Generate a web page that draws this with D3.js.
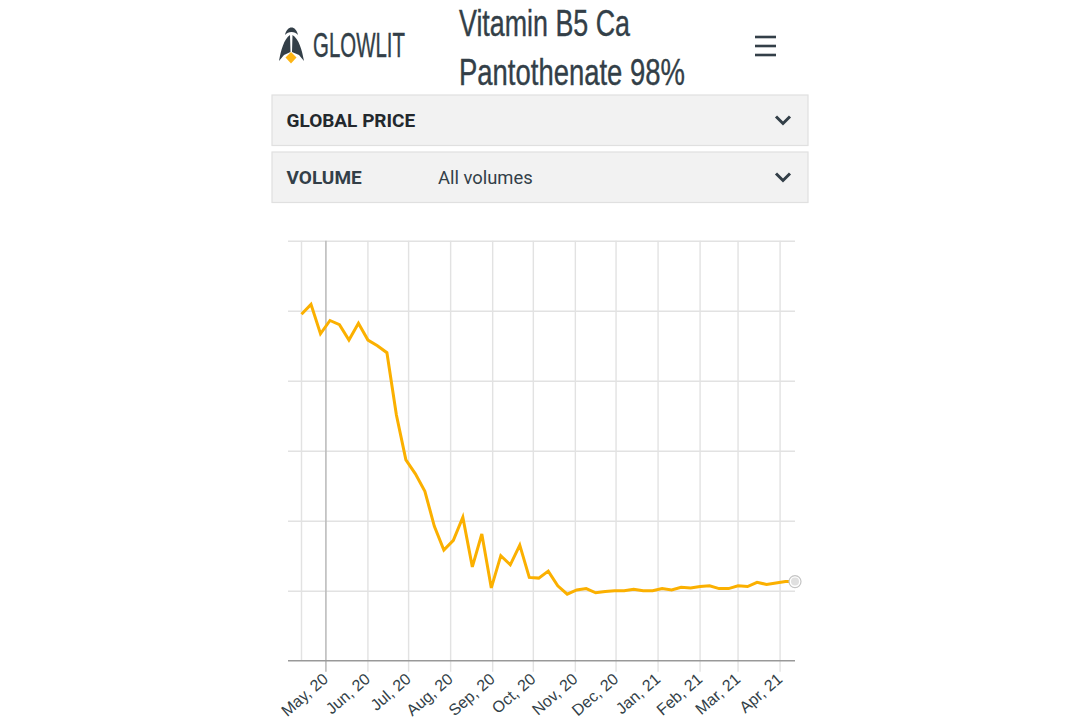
<!DOCTYPE html>
<html>
<head>
<meta charset="utf-8">
<script src="https://cdn.jsdelivr.net/npm/d3@7"></script>
<style>
  html, body { margin: 0; background: #fff; }
  svg { display: block; }
</style>
</head>
<body>
<svg id="chart" width="1080" height="720"></svg>
<script>
const weeks = [
  "2020-04-13", "2020-04-20", "2020-04-27", "2020-05-04", "2020-05-11", "2020-05-18", "2020-05-25",
  "2020-06-01", "2020-06-08", "2020-06-15", "2020-06-22", "2020-06-29", "2020-07-06", "2020-07-13",
  "2020-07-20", "2020-07-27", "2020-08-03", "2020-08-10", "2020-08-17", "2020-08-24", "2020-08-31",
  "2020-09-07", "2020-09-14", "2020-09-21", "2020-09-28", "2020-10-05", "2020-10-12", "2020-10-19",
  "2020-10-26", "2020-11-02", "2020-11-09", "2020-11-16", "2020-11-23", "2020-11-30", "2020-12-07",
  "2020-12-14", "2020-12-21", "2020-12-28", "2021-01-04", "2021-01-11", "2021-01-18", "2021-01-25",
  "2021-02-01", "2021-02-08", "2021-02-15", "2021-02-22", "2021-03-01", "2021-03-08", "2021-03-15",
  "2021-03-22", "2021-03-29", "2021-04-05", "2021-04-12",
]

const prices = [
  4.95, 5.09, 4.67, 4.86, 4.80, 4.58, 4.82, 4.58, 4.50, 4.40, 3.51, 2.87, 2.67, 2.42,
  1.92, 1.58, 1.72, 2.05, 1.34, 1.81, 1.04, 1.50, 1.37, 1.65, 1.19, 1.18, 1.28, 1.07,
  0.95, 1.01, 1.03, 0.97, 0.99, 1.00, 1.00, 1.02, 1.00, 1.00, 1.03, 1.01, 1.05, 1.04,
  1.06, 1.07, 1.03, 1.03, 1.07, 1.06, 1.12, 1.09, 1.11, 1.13, 1.13,
]

const monthTicks = [
  "2020-05-01", "2020-06-01", "2020-07-01", "2020-08-01", "2020-09-01", "2020-10-01",
  "2020-11-01", "2020-12-01", "2021-01-01", "2021-02-01", "2021-03-01", "2021-04-01",
]

const tickLabels = [
  "May, 20", "Jun, 20", "Jul, 20", "Aug, 20", "Sep, 20", "Oct, 20",
  "Nov, 20", "Dec, 20", "Jan, 21", "Feb, 21", "Mar, 21", "Apr, 21",
]

const priceTicks = [0, 1, 2, 3, 4, 5, 6]

const panels = [
  { label: "GLOBAL PRICE", value: "", top: 95, color: "#23282d" },
  { label: "VOLUME", value: "All volumes", top: 152, color: "#333f48" },
]

const slate = "#333f48"
const parseDay = d3.utcParse("%Y-%m-%d")
const svg = d3.select("#chart")

function drawHeader() {
  const logo = svg.append("g").attr("fill", slate)
  logo.append("path").attr("d", "M279 61C281 50 284 39 290 35L290.5 52L284 55Z")
  logo.append("path").attr("d", "M304 61C302 50 299 39 292.5 35L292 52L299 55Z")
  logo.append("path").attr("d", "M285 35C287 25 296 25 298 35C295 31 288 31 285 35Z")
  logo.append("path").attr("d", "M291 52L296.5 57.5L291 63.5L285.5 57.5Z").attr("fill", "#fdb515")

  const narrow = (text, x, y, width, size) => svg.append("text")
    .attr("x", x)
    .attr("y", y)
    .attr("textLength", width)
    .attr("lengthAdjust", "spacingAndGlyphs")
    .attr("font-family", "'Liberation Sans Narrow', 'Liberation Sans', sans-serif")
    .attr("font-size", size)
    .attr("fill", slate)
    .attr("stroke", slate)
    .attr("stroke-width", 0.4)
    .text(text)

  narrow("GLOWLIT", 313, 57, 92, 35)
  narrow("Vitamin B5 Ca", 459, 36, 171, 37)
  narrow("Pantothenate 98%", 459, 85, 226, 37)

  svg.append("g")
    .selectAll("line")
    .data([37, 46, 55])
    .join("line")
    .attr("x1", 755)
    .attr("x2", 776)
    .attr("y1", (d) => d)
    .attr("y2", (d) => d)
    .attr("stroke", slate)
    .attr("stroke-width", 2.6)
}

function drawPanels() {
  const panel = svg.append("g")
    .selectAll("g")
    .data(panels)
    .join("g")
    .attr("transform", (d) => `translate(272, ${d.top})`)

  panel.append("rect")
    .attr("width", 536)
    .attr("height", 50.5)
    .attr("fill", "#f2f2f2")
    .attr("stroke", "#e0e0e0")
    .attr("stroke-width", 1.2)

  panel.append("text")
    .attr("x", 14.5)
    .attr("y", 31.5)
    .attr("font-family", "Roboto, sans-serif")
    .attr("font-weight", 700)
    .attr("font-size", 19)
    .attr("fill", (d) => d.color)
    .text((d) => d.label)

  panel.append("text")
    .attr("x", 166)
    .attr("y", 31.5)
    .attr("font-family", "Roboto, sans-serif")
    .attr("font-size", 18.4)
    .attr("fill", slate)
    .text((d) => d.value)

  panel.append("path")
    .attr("d", "M504 21.5L511 28.5L518 21.5")
    .attr("fill", "none")
    .attr("stroke", slate)
    .attr("stroke-width", 3)
}

function drawChart() {
  const x = d3.scaleUtc()
    .domain(d3.extent(weeks, parseDay))
    .range([301.5, 795])

  const y = d3.scaleLinear()
    .domain(d3.extent(priceTicks))
    .range([660.7, 240.7])

  const rows = weeks.map((week, i) => ({ date: parseDay(week), price: prices[i] }))
  const tickDates = monthTicks.map(parseDay)
  const lastRow = rows[rows.length - 1]

  // Horizontal grid, the value labels are not shown in the source
  svg.append("g")
    .attr("transform", "translate(795, 0)")
    .call(d3.axisLeft(y).tickValues(priceTicks.slice(1)).tickSize(507).tickFormat(""))
    .call((g) => g.select(".domain").remove())
    .call((g) => g.selectAll("line").attr("stroke", "#e2e2e2").attr("stroke-width", 1.4))

  // First data date also gets a grid line
  svg.append("line")
    .attr("x1", x(rows[0].date))
    .attr("x2", x(rows[0].date))
    .attr("y1", y.range()[1])
    .attr("y2", y.range()[0])
    .attr("stroke", "#e2e2e2")
    .attr("stroke-width", 1.4)

  const xAxis = svg.append("g")
    .attr("transform", "translate(-0.5, 660.7)")
    .call(d3.axisBottom(x)
      .tickValues(tickDates)
      .tickSizeOuter(0)
      .tickFormat((d, i) => tickLabels[i]))

  xAxis.select(".domain").remove()
  xAxis.selectAll(".tick line")
    .attr("y2", -420)
    .attr("y1", 11)
    .attr("stroke", (d, i) => (i === 0 ? "#bdbdbd" : "#e2e2e2"))
    .attr("stroke-width", (d, i) => (i === 0 ? 1.6 : 1.4))
  xAxis.selectAll(".tick text")
    .attr("transform", "translate(0, 16) rotate(-41)")
    .attr("x", 0)
    .attr("y", 0)
    .attr("dy", "0.32em")
    .attr("text-anchor", "end")
    .attr("font-family", "'Liberation Sans', Arial, sans-serif")
    .attr("font-size", 16)
    .attr("fill", "#333f48")

  svg.append("line")
    .attr("x1", 288)
    .attr("x2", 795)
    .attr("y1", y(0))
    .attr("y2", y(0))
    .attr("stroke", "#999")
    .attr("stroke-width", 1.4)

  const line = d3.line()
    .x((d) => x(d.date))
    .y((d) => y(d.price))

  svg.append("path")
    .datum(rows)
    .attr("fill", "none")
    .attr("stroke", "#fbb000")
    .attr("stroke-width", 3)
    .attr("stroke-linejoin", "miter")
    .attr("d", line)

  svg.append("circle")
    .attr("cx", x(lastRow.date))
    .attr("cy", y(lastRow.price))
    .attr("r", 6)
    .attr("fill", "#fff")
    .attr("stroke", "#c4c4c4")
    .attr("stroke-width", 1.2)

  svg.append("circle")
    .attr("cx", x(lastRow.date))
    .attr("cy", y(lastRow.price))
    .attr("r", 4)
    .attr("fill", "#e0e0e0")
}

drawHeader()
drawPanels()
drawChart()
</script>
</body>
</html>
